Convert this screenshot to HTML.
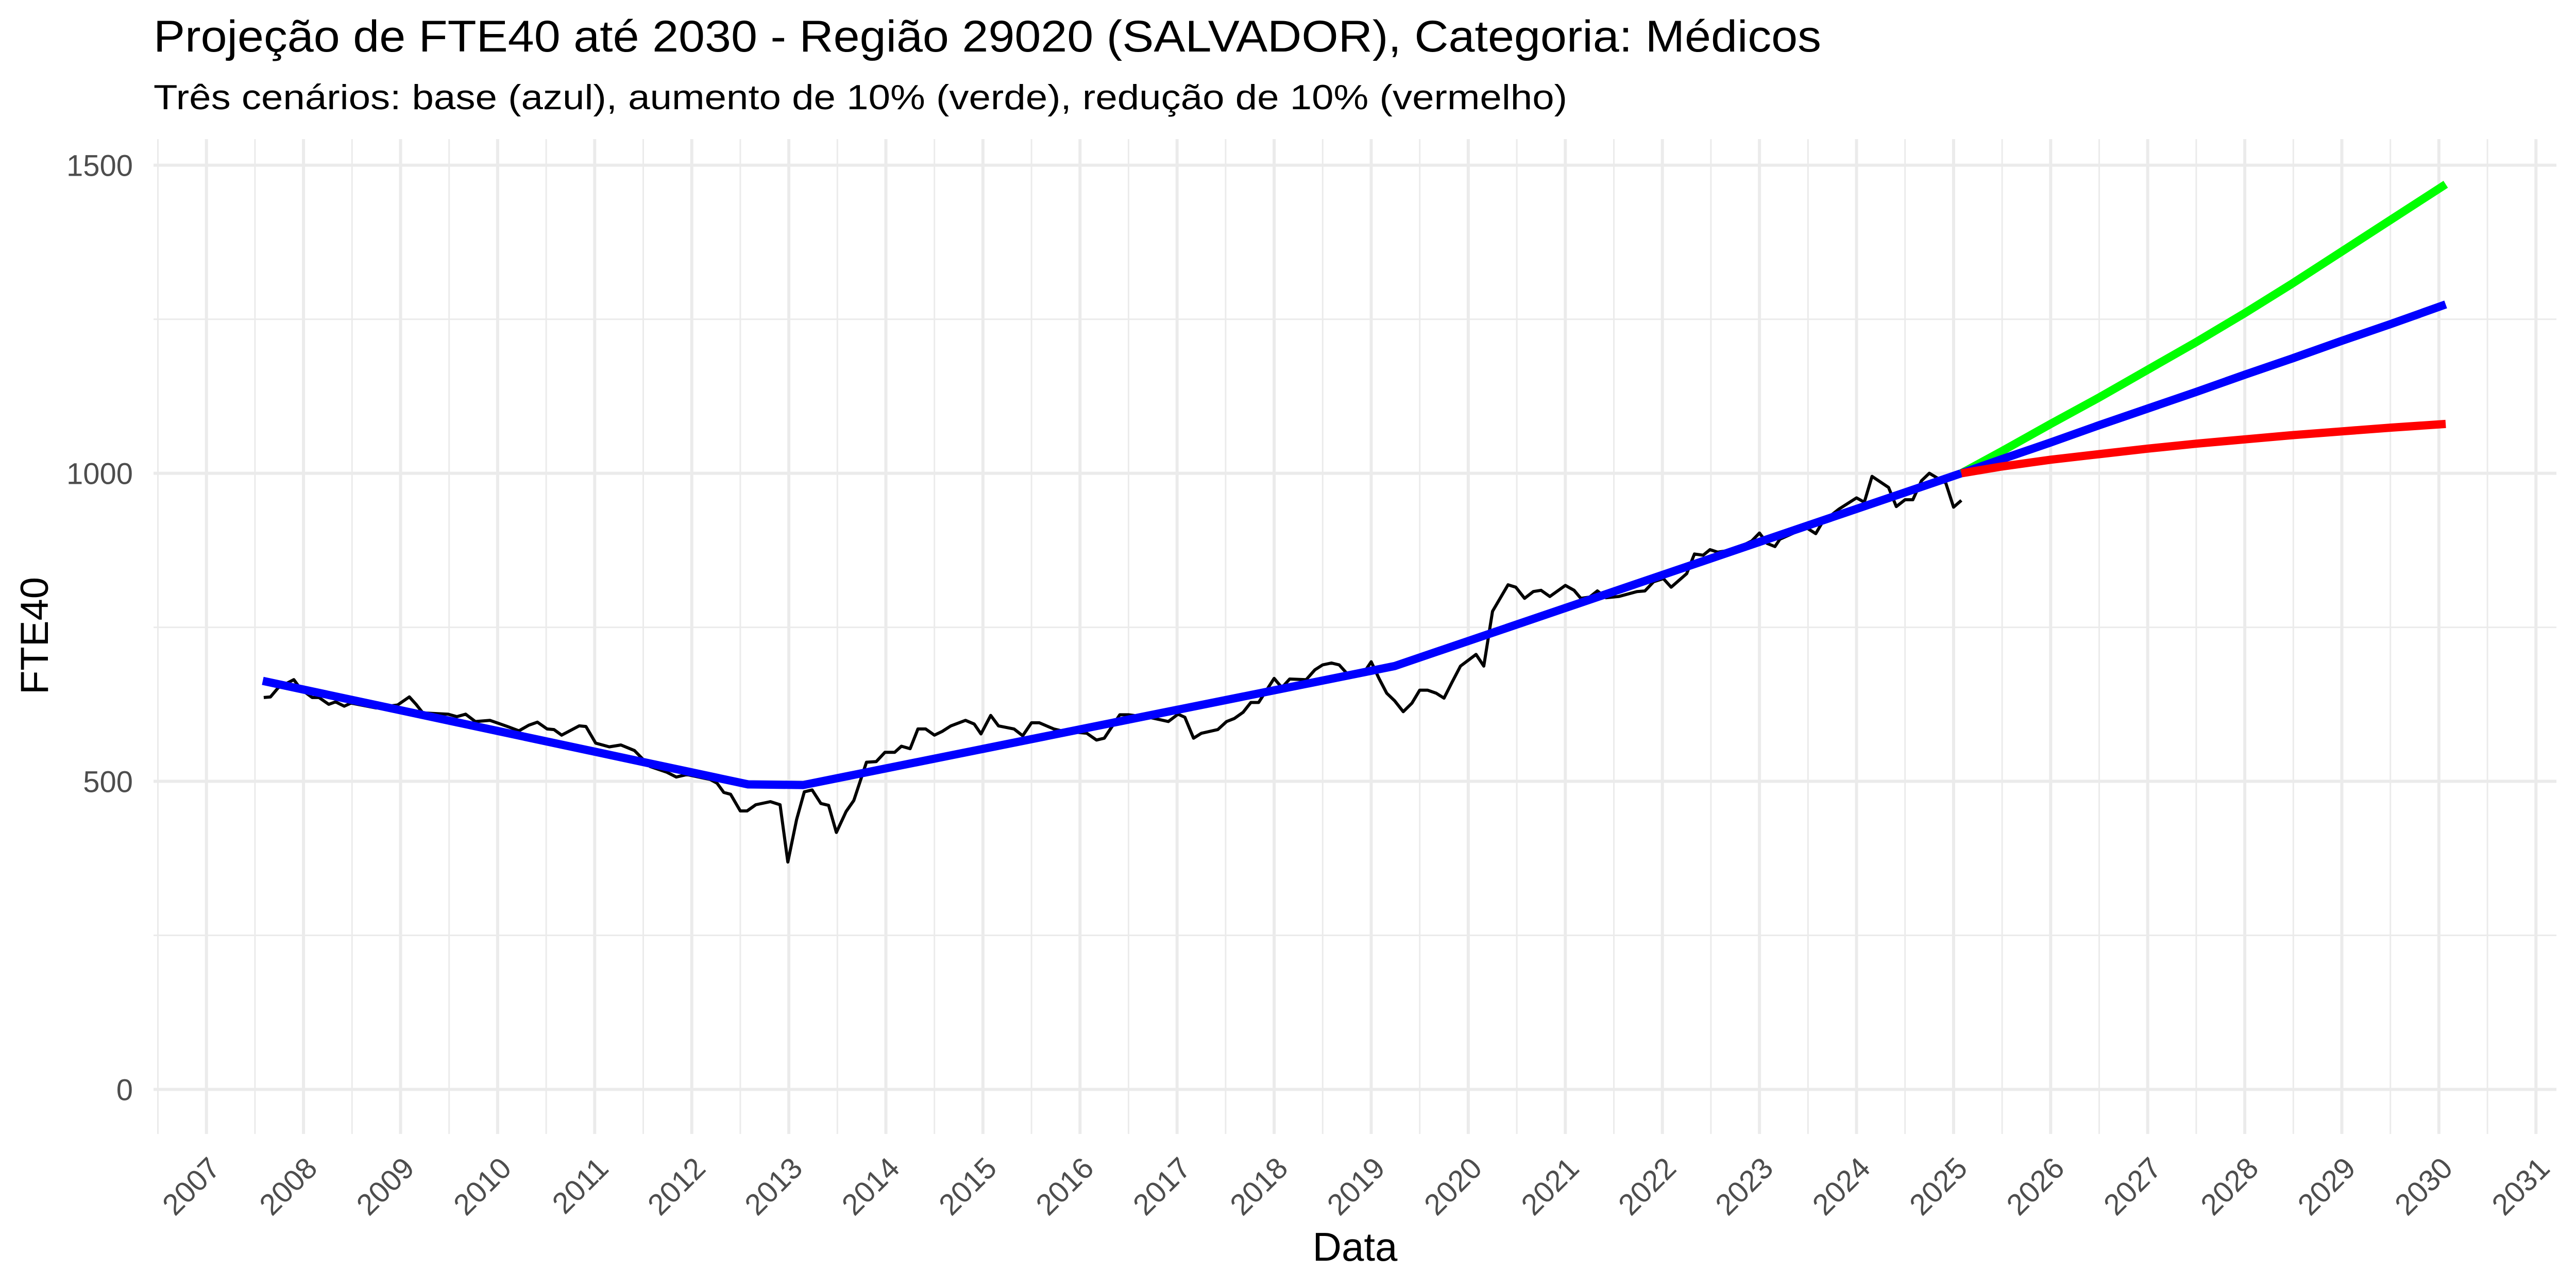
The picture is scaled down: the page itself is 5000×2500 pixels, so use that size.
<!DOCTYPE html>
<html><head><meta charset="utf-8"><style>
html,body{margin:0;padding:0;background:#fff;}
svg{display:block;font-family:"Liberation Sans",Arial,sans-serif;}
</style></head><body>
<svg id="chart" width="5000" height="2500" viewBox="0 0 5000 2500" xmlns="http://www.w3.org/2000/svg">
<rect width="5000" height="2500" fill="#fff"/>
<text x="298" y="100" font-size="86" fill="#000" textLength="3237" lengthAdjust="spacingAndGlyphs">Projeção de FTE40 até 2030 - Região 29020 (SALVADOR), Categoria: Médicos</text>
<text x="298" y="212" font-size="68" fill="#000" textLength="2744" lengthAdjust="spacingAndGlyphs">Três cenários: base (azul), aumento de 10% (verde), redução de 10% (vermelho)</text>
<g id="grid"></g>
<g id="yticks"></g>
<g id="xticks"></g>
<g id="series"></g>
<text x="2630" y="2447" font-size="78" text-anchor="middle" fill="#000">Data</text>
<text x="93" y="1234" font-size="76" text-anchor="middle" fill="#000" transform="rotate(-90 93 1234)">FTE40</text>
</svg>
<script>
const xTickYears = [2007,2008,2009,2010,2011,2012,2013,2014,2015,2016,2017,2018,2019,2020,2021,2022,2023,2024,2025,2026,2027,2028,2029,2030,2031];
const yTickValues = [0,500,1000,1500];
const yTickLabels = ["0","500","1000","1500"];
const yMinorValues = [250,750,1250];

const dataYears = [2007.59,2007.66,2007.74,2007.90,2007.97,2008.09,2008.16,2008.26,2008.33,2008.42,2008.49,2008.75,2008.97,2009.09,2009.16,2009.23,2009.49,2009.58,2009.67,2009.77,2009.92,2010.01,2010.10,2010.22,2010.32,2010.41,2010.51,2010.58,2010.66,2010.84,2010.91,2011.01,2011.15,2011.27,2011.41,2011.57,2011.74,2011.84,2011.95,2012.19,2012.26,2012.33,2012.40,2012.50,2012.57,2012.66,2012.81,2012.91,2012.99,2013.08,2013.16,2013.24,2013.33,2013.41,2013.49,2013.59,2013.67,2013.80,2013.90,2013.99,2014.09,2014.16,2014.25,2014.33,2014.41,2014.50,2014.58,2014.67,2014.82,2014.91,2014.98,2015.08,2015.16,2015.32,2015.41,2015.50,2015.58,2015.73,2015.81,2016.07,2016.17,2016.25,2016.41,2016.50,2016.74,2016.91,2017.01,2017.08,2017.17,2017.25,2017.42,2017.51,2017.59,2017.68,2017.76,2017.84,2018.00,2018.08,2018.16,2018.33,2018.42,2018.50,2018.59,2018.67,2018.75,2018.85,2018.94,2019.00,2019.08,2019.16,2019.24,2019.33,2019.42,2019.50,2019.58,2019.67,2019.75,2019.83,2019.92,2020.08,2020.16,2020.25,2020.41,2020.49,2020.58,2020.67,2020.75,2020.84,2021.00,2021.09,2021.16,2021.25,2021.33,2021.42,2021.55,2021.74,2021.82,2021.91,2022.01,2022.09,2022.25,2022.33,2022.42,2022.49,2022.57,2022.74,2022.92,2023.00,2023.08,2023.16,2023.21,2023.48,2023.58,2023.65,2023.82,2024.00,2024.08,2024.16,2024.33,2024.41,2024.50,2024.58,2024.67,2024.75,2024.92,2025.00,2025.08];
const dataValues = [636,637,652,665,650,636,636,625,629,622,627,619,624,637,625,611,609,605,609,597,599,594,589,582,591,596,585,584,575,590,589,562,556,559,550,524,515,507,511,503,497,482,479,452,452,462,467,462,369,438,483,486,464,461,417,451,469,531,532,547,547,557,553,585,585,575,581,590,599,593,577,607,590,585,574,595,595,585,582,578,567,570,608,608,603,597,609,604,570,578,584,597,602,612,628,628,667,652,666,665,681,689,692,689,675,676,680,694,667,643,631,613,627,648,648,643,635,660,687,706,687,776,819,815,797,808,810,800,818,810,797,799,809,798,800,808,809,824,829,815,837,869,867,876,872,876,890,903,886,881,893,912,902,921,942,960,953,995,977,946,957,957,988,1000,984,945,956];

const trendYears = [2007.58,2012.58,2013.15,2019.24,2025.08];
const trendValues = [663,495,494,687,1000];

const projYears = [2025.08,2025.5,2026,2026.5,2027,2027.5,2028,2028.5,2029,2029.5,2030.07];
const baseValues = [1000,1023,1050,1078,1105,1132,1160,1187,1215,1242,1274];
const upValues = [1000,1036,1080,1123,1168,1213,1260,1309,1360,1411,1469];
const downValues = [1000,1011,1022,1031,1040,1048,1055,1062,1068,1074,1080];

const NS = "http://www.w3.org/2000/svg";
function xScale(yr){ return 400.7 + (yr - 2007) * 188.4; }
function yScale(v){ return 2114.5 - v * 1.1959; }
const PX0 = 298, PX1 = 4962, PY0 = 270, PY1 = 2201;

const grid = document.getElementById('grid');
function gline(x1,y1,x2,y2,w){
  const l = document.createElementNS(NS,'line');
  l.setAttribute('x1',x1); l.setAttribute('y1',y1); l.setAttribute('x2',x2); l.setAttribute('y2',y2);
  l.setAttribute('stroke','#ebebeb'); l.setAttribute('stroke-width',w);
  grid.appendChild(l);
  return l;
}
yMinorValues.forEach(v => {
  const l = gline(PX0,yScale(v),PX1,yScale(v),3);
  
  
});
xTickYears.forEach(yr => {
  if (xScale(yr - 0.5) > PX0 - 10) {
    const l = gline(xScale(yr-0.5),PY0,xScale(yr-0.5),PY1,3);
    
    
  }
});
yTickValues.forEach(v => {
  const l = gline(PX0,yScale(v),PX1,yScale(v),6);
  
  
});
xTickYears.forEach(yr => {
  const l = gline(xScale(yr),PY0,xScale(yr),PY1,6);
  
  
});

const yt = document.getElementById('yticks');
yTickValues.forEach((v,i) => {
  const t = document.createElementNS(NS,'text');
  t.setAttribute('x',258); t.setAttribute('y',yScale(v)+21);
  t.setAttribute('text-anchor','end'); t.setAttribute('font-size','58'); t.setAttribute('fill','#4d4d4d');
  t.textContent = yTickLabels[i];
  
  
  yt.appendChild(t);
});
const xt = document.getElementById('xticks');
xTickYears.forEach(yr => {
  const t = document.createElementNS(NS,'text');
  const x = xScale(yr) + 30, y = 2271;
  t.setAttribute('x',x); t.setAttribute('y',y);
  t.setAttribute('text-anchor','end'); t.setAttribute('font-size','58'); t.setAttribute('fill','#4d4d4d');
  t.setAttribute('transform','rotate(-45 '+x+' '+y+')');
  t.textContent = String(yr);
  
  
  xt.appendChild(t);
});

const ser = document.getElementById('series');
function path(xs, vs, color, w){
  const p = document.createElementNS(NS,'path');
  let d = '';
  xs.forEach((yr,i) => { d += (i ? 'L' : 'M') + xScale(yr).toFixed(1) + ',' + yScale(vs[i]).toFixed(1); });
  p.setAttribute('d', d); p.setAttribute('fill','none'); p.setAttribute('stroke',color);
  p.setAttribute('stroke-width',w); p.setAttribute('stroke-linejoin','round');
  ser.appendChild(p);
  return p;
}
const pObs = path(dataYears, dataValues, '#000', 6);


const pTrend = path(trendYears, trendValues, '#0000ff', 16);


const pUp = path(projYears, upValues, '#00ff00', 16);


const pBase = path(projYears, baseValues, '#0000ff', 16);


const pDown = path(projYears, downValues, '#ff0000', 16);


</script>
</body></html>
